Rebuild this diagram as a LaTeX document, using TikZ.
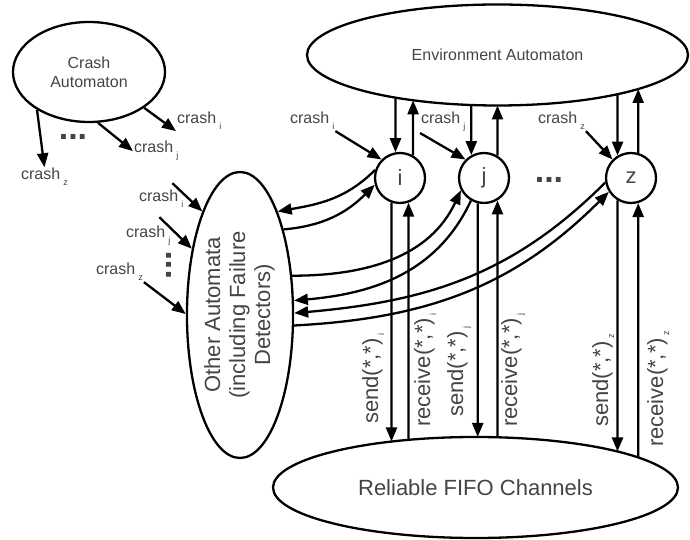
\documentclass[tikz,border=0pt]{standalone}
\usepackage{fontspec}
\setmainfont{Liberation Sans}
\usetikzlibrary{arrows.meta,shapes.geometric}
\definecolor{txtgray}{HTML}{444444}
\newcommand{\subidx}[1]{\kern3pt\raisebox{-6pt}{\fontsize{9}{9}\selectfont #1}}

\begin{document}
\begin{tikzpicture}[x=1pt, y=1pt, line width=2.3pt,
        automaton/.style={draw, ellipse, inner sep=0pt, align=center, text=txtgray},
        proc/.style={draw, circle, minimum size=50pt, inner sep=0pt, text=txtgray,
            font=\fontsize{22}{26}\selectfont},
        lbl/.style={inner sep=0pt, anchor=base west, text=txtgray,
            font=\fontsize{16}{19}\selectfont},
        act/.style={inner sep=0pt, anchor=base west, rotate=90, text=txtgray,
            font=\fontsize{22}{26}\selectfont},
        ellipsis/.style={inner sep=0pt, text=txtgray, font=\fontsize{34}{34}\bfseries},
        msg/.style={-{Triangle[length=14pt,width=11pt]}}]
        \useasboundingbox (0,0) rectangle (690,540);

        \node (crash) [automaton, minimum width=152pt, minimum height=100pt,
            font=\fontsize{16}{19}\selectfont] at (89,468) {Crash\\Automaton};
        \node (env) [automaton, minimum width=381pt, minimum height=101pt,
            font=\fontsize{16}{19}\selectfont] at (497.5,485) {Environment Automaton};
        \node (fifo) [automaton, minimum width=405pt, minimum height=101pt,
            font=\fontsize{22}{26}\selectfont] at (475.5,52.5) {Reliable FIFO Channels};
        \node (other) [automaton, minimum width=104pt, minimum height=286pt,
            font=\fontsize{22}{25}\selectfont] at (240,225)
            {\rotatebox{90}{\begin{tabular}{@{}c@{}}Other Automata\\(including Failure\\Detectors)\end{tabular}}};

        \node (i) [proc] at (400,362) {i};
        \node (j) [proc] at (484,362) {j};
        \node (z) [proc] at (631,362) {z};

        \node (dotsA) [ellipsis] at (73,403) {...};
        \node (dotsB) [ellipsis] at (549,360) {...};
        \node (dotsC) [ellipsis, rotate=90] at (169,275) {...};

        % crash outputs
        \node (ci) [lbl] at (176,416) {crash\subidx{i}};
        \node (cj) [lbl] at (133,387) {crash\subidx{j}};
        \node (cz) [lbl] at (20,360) {crash\subidx{z}};
        \node (oi) [lbl] at (138,338) {crash\subidx{i}};
        \node (oj) [lbl] at (125,302) {crash\subidx{j}};
        \node (oz) [lbl] at (95,265) {crash\subidx{z}};
        \node (ii) [lbl] at (289,416) {crash\subidx{i}};
        \node (jj) [lbl] at (420,416) {crash\subidx{j}};
        \node (zz) [lbl] at (537,416) {crash\subidx{z}};

        % channel actions
        \node (si) [act] at (378,115) {send(*,*)\subidx{i}};
        \node (ri) [act] at (430,112) {receive(*,*)\subidx{i}};
        \node (sj) [act] at (463,122) {send(*,*)\subidx{j}};
        \node (rj) [act] at (517,112) {receive(*,*)\subidx{j}};
        \node (sz) [act] at (608,112) {send(*,*)\subidx{z}};
        \node (rz) [act] at (663,92) {receive(*,*)\subidx{z}};

        % points on the big ellipses
        \coordinate (envI1) at (395.5,442.3);
        \coordinate (envI2) at (413.1,439.7);
        \coordinate (envJ1) at (471.3,435.0);
        \coordinate (envJ2) at (497.5,434.5);
        \coordinate (envZ1) at (617.5,445.8);
        \coordinate (envZ2) at (638.2,451.0);
        \coordinate (fifoI1) at (391.5,98.5);
        \coordinate (fifoI2) at (408.5,100.2);
        \coordinate (fifoJ1) at (477.7,103.0);
        \coordinate (fifoJ2) at (497.5,102.7);
        \coordinate (fifoZ1) at (617.5,88.5);
        \coordinate (fifoZ2) at (638.2,82.6);

        \path (crash.327) edge[msg] (ci.south west);
        \path (crash.280) edge[msg] (cj.west);
        \path (crash.216) edge[msg] (cz.north);
        %
        \path ([xshift=-12pt,yshift=6pt]oi.north east) edge[msg] (other.110);
        \path ([xshift=-12pt,yshift=8pt]oj.north east) edge[msg] (other.126);
        \path (oz.south east) edge[msg] (other.179);
        %
        \path (ii.south east) edge[msg] (i.135);
        \path (jj.south west) edge[msg] (j.135);
        \path (zz.south east) edge[msg] (z.135);

        % environment
        \path (envI1) edge[msg] (i.100);
        \path (i.60) edge[msg] (envI2);
        \path (envJ1) edge[msg] (j.119);
        \path (j.59) edge[msg] (envJ2);
        \path (envZ1) edge[msg] (z.121);
        \path (z.74) edge[msg] (envZ2);

        % channels
        \path (i.251) edge[msg] (fifoI1);
        \path (fifoI2) edge[msg] (i.289);
        \path (j.256) edge[msg] (fifoJ1);
        \path (fifoJ2) edge[msg] (j.301);
        \path (z.239) edge[msg] (fifoZ1);
        \path (fifoZ2) edge[msg] (z.286);

        % other automata
        \path (i.162) edge[msg, out=225, in=10] (other.70);
        \path (other.63) edge[msg, out=5, in=225] (i.195);
        \path (other.37) edge[msg, out=0, in=245] (j.208);
        \path (j.240) edge[msg, out=245, in=5] (other.15);
        \path (z.190) edge[msg, out=225, in=5] (other.2);
        \path (other.349) edge[msg, out=3, in=225] (z.212);
    \end{tikzpicture}
\end{document}
